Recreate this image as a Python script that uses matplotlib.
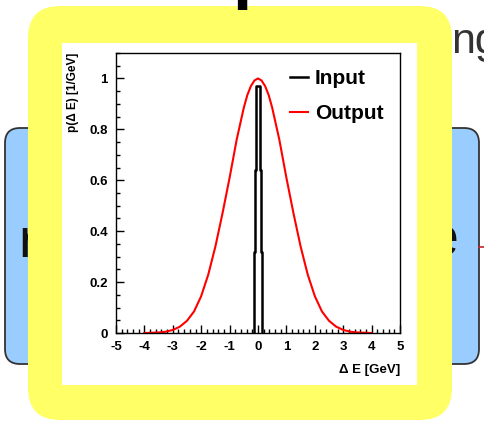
import numpy as np
import matplotlib.pyplot as plt
from matplotlib.patches import FancyBboxPatch
from matplotlib.ticker import MultipleLocator

plt.rcParams['axes.unicode_minus'] = False

### Output curve
out_x = [-4.0, -3.75, -3.5, -3.25, -3.0, -2.75, -2.5, -2.25, -2.0, -1.75, -1.5,
         -1.25, -1.0, -0.75, -0.5, -0.375, -0.25, -0.125, 0.0, 0.125, 0.25, 0.375,
         0.5, 0.75, 1.0, 1.25, 1.5, 1.75, 2.0, 2.25, 2.5, 2.75, 3.0, 3.25, 3.5,
         3.75, 4.0]
out_y = [0.0, 0.001, 0.002, 0.005, 0.012, 0.025, 0.048, 0.085, 0.145, 0.23, 0.34,
         0.47, 0.61, 0.76, 0.885, 0.935, 0.97, 0.992, 1.0, 0.992, 0.97, 0.935,
         0.885, 0.76, 0.61, 0.47, 0.34, 0.23, 0.145, 0.085, 0.048, 0.025, 0.012,
         0.005, 0.002, 0.001, 0.0]

### Input: narrow stepped spike (levels and half widths of each band)
in_levels = [0.0, 0.15, 0.32, 0.48, 0.64, 0.81, 0.97]
in_halfw = [0.15, 0.13, 0.11, 0.09, 0.075, 0.06]

xticks = [-5, -4, -3, -2, -1, 0, 1, 2, 3, 4, 5]
yticks = [0, 0.2, 0.4, 0.6, 0.8, 1]
ytick_labels = ['0', '0.2', '0.4', '0.6', '0.8', '1']

W, H = 484, 422
fig = plt.figure(figsize=(W / 100, H / 100), dpi=100)
fig.patch.set_facecolor('white')

### background slide pieces, in pixel coords
bg = fig.add_axes([0, 0, 1, 1])
bg.set_xlim(0, W)
bg.set_ylim(H, 0)
bg.axis('off')

for x0, x1 in [(5, 90), (395, 479)]:
    box = FancyBboxPatch((x0 + 15, 143), x1 - x0 - 30, 206,
                         boxstyle='round,pad=15', fc='#99ccff', ec='#333333', lw=1.3)
    bg.add_patch(box)
bg.plot([479, 484], [247, 247], color='#cc2222', lw=1.2)
bg.text(18, 257, 'r', fontsize=40, family='Liberation Sans', color='#111111', va='baseline')
bg.text(459, 255, 'e', fontsize=40, family='Liberation Sans', color='#111111',
        va='baseline', ha='right')
bg.text(451, 53, 'ng', fontsize=31, family='Liberation Sans', color='#333333', va='baseline')

yel = FancyBboxPatch((28 + 32, 6 + 32), 424 - 64, 414 - 64,
                     boxstyle='round,pad=32', fc='#ffff66', ec='none', zorder=3)
bg.add_patch(yel)
bg.text(232, -4, 'p', fontsize=50, family='Liberation Sans', weight='bold',
        color='black', va='baseline', zorder=4)
panel = plt.Rectangle((62, 43), 355, 342, fc='white', ec='none', zorder=4)
bg.add_patch(panel)

### the plot itself
ax = fig.add_axes([116 / W, (H - 333) / H, 284 / W, 280 / H])
ax.set_zorder(5)
ax.set_xlim(-5, 5)
ax.set_ylim(0, 1.1)

ax.plot(out_x, out_y, color='#ff0000', lw=1.5, label='Output', zorder=2)

# build the step outline of the input spike
sx, sy = [], []
for i in range(len(in_halfw)):
    sx += [-in_halfw[i], -in_halfw[i]]
    sy += [in_levels[i], in_levels[i + 1]]
rx = [-v for v in sx[::-1]]
ry = sy[::-1]
ax.plot(sx + rx, sy + ry, color='black', lw=1.8, label='Input', zorder=3)

ax.set_xticks(xticks)
ax.set_yticks(yticks)
ax.set_yticklabels(ytick_labels)
ax.xaxis.set_minor_locator(MultipleLocator(0.2))
ax.yaxis.set_minor_locator(MultipleLocator(0.05))
ax.tick_params(which='both', direction='in', top=False, right=False, width=1)
ax.tick_params(which='major', length=6, pad=6)
ax.tick_params(which='minor', length=3)
for lab in ax.get_xticklabels() + ax.get_yticklabels():
    lab.set_family('Liberation Sans')
    lab.set_weight('bold')
    lab.set_fontsize(9.5)
for s in ax.spines.values():
    s.set_linewidth(1.0)

ax.set_xlabel('\u0394 E [GeV]', family='Liberation Sans', weight='bold', fontsize=9.5)
ax.xaxis.set_label_coords(1.0, -0.11)
ax.xaxis.label.set_ha('right')
ax.set_ylabel('p(\u0394 E) [1/GeV]', family='Liberation Sans', weight='bold', fontsize=8.5)
ax.yaxis.set_label_coords(-0.152, 1.0)
ax.yaxis.label.set_va('center')
ax.yaxis.label.set_ha('right')

h, l = ax.get_legend_handles_labels()
leg = ax.legend(h[::-1], l[::-1], loc='upper left', bbox_to_anchor=(0.612, 0.943),
                frameon=False, handlelength=0.85, handletextpad=0.35,
                labelspacing=0.78, borderpad=0, borderaxespad=0,
                prop={'family': 'Liberation Sans', 'weight': 'bold', 'size': 15})

fig.savefig('out.png', dpi=100)
